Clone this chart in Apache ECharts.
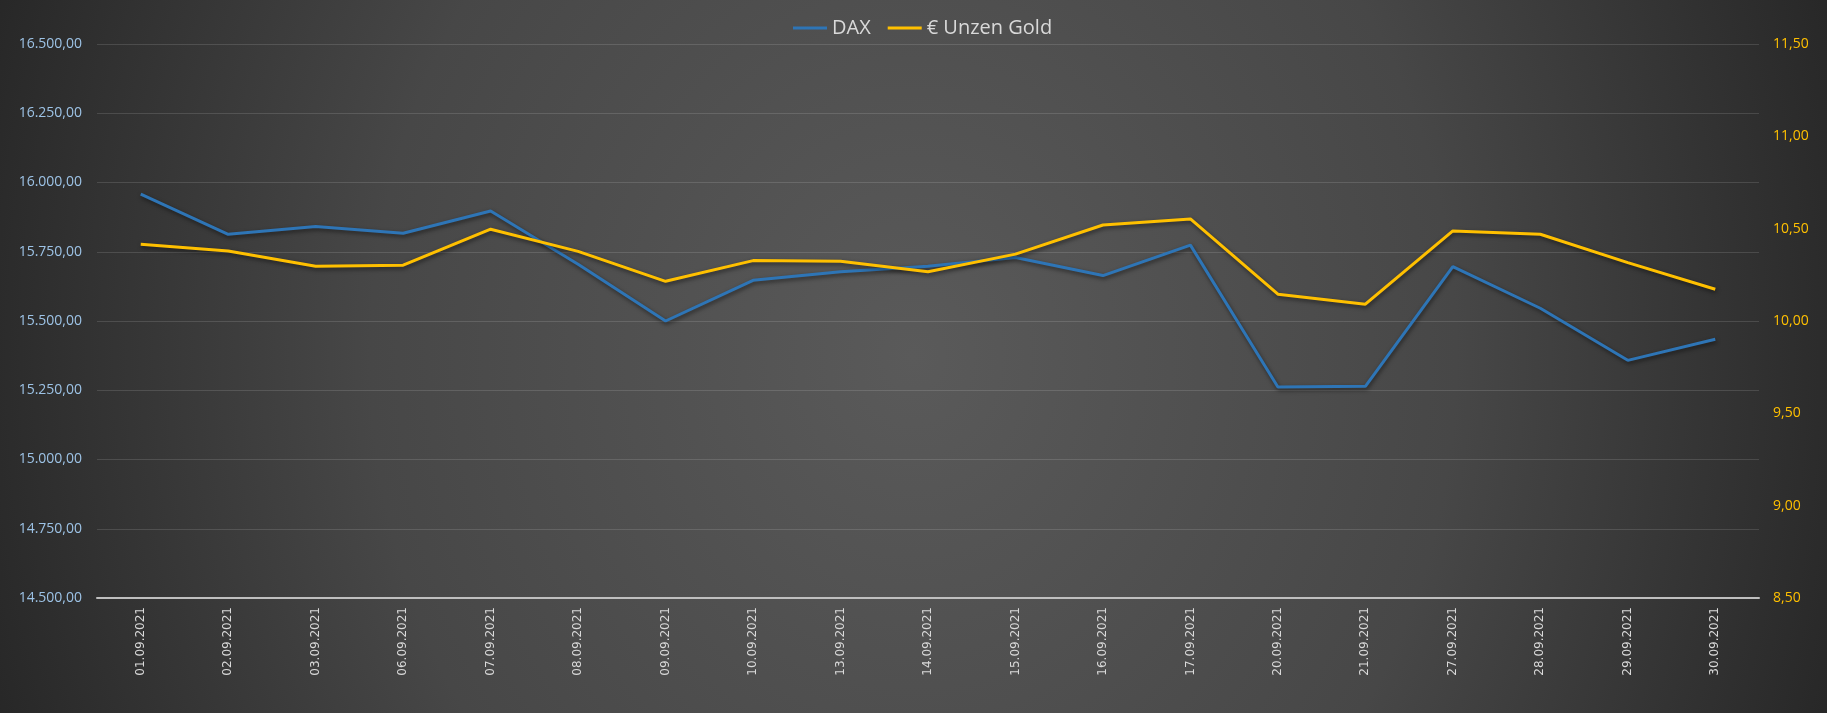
<!DOCTYPE html>
<html>
<head>
<meta charset="utf-8">
<script src="https://cdn.jsdelivr.net/npm/echarts@6/dist/echarts.min.js"></script>
<style>
  html, body { margin: 0; padding: 0; background: #2a2a2a; }
  #chart {
    width: 1827px; height: 713px;
    background: radial-gradient(ellipse 54% 160% at 50% 50%, #5a5a5a 0%, #474747 55%, #262626 100%);
  }
</style>
</head>
<body>
<div id="chart"></div>
<script>
const categories = ['01.09.2021','02.09.2021','03.09.2021','06.09.2021','07.09.2021','08.09.2021','09.09.2021','10.09.2021','13.09.2021','14.09.2021','15.09.2021','16.09.2021','17.09.2021','20.09.2021','21.09.2021','27.09.2021','28.09.2021','29.09.2021','30.09.2021'];
const daxValues = [15958, 15813, 15841, 15817, 15897, 15705, 15500, 15647, 15678, 15698, 15729, 15664, 15774, 15262, 15264, 15696, 15546, 15358, 15434];
const goldValues = [10.416, 10.379, 10.297, 10.302, 10.497, 10.377, 10.215, 10.327, 10.324, 10.267, 10.362, 10.520, 10.553, 10.145, 10.091, 10.488, 10.470, 10.316, 10.172];
const leftTickValues = [14500, 14750, 15000, 15250, 15500, 15750, 16000, 16250, 16500];
const leftTickLabels = ['14.500,00','14.750,00','15.000,00','15.250,00','15.500,00','15.750,00','16.000,00','16.250,00','16.500,00'];
const rightTickValues = [8.5, 9.0, 9.5, 10.0, 10.5, 11.0, 11.5];
const rightTickLabels = ['8,50','9,00','9,50','10,00','10,50','11,00','11,50'];
const seriesNames = ['DAX', '€ Unzen Gold'];

function lookup(values, labels, v) {
  for (let i = 0; i < values.length; i++) {
    if (Math.abs(values[i] - v) < 1e-6) return labels[i];
  }
  return '';
}

const chart = echarts.init(document.getElementById('chart'), null, { renderer: 'canvas' });
const shadow = { shadowColor: 'rgba(0,0,0,0.55)', shadowBlur: 4, shadowOffsetX: 1, shadowOffsetY: 2 };

chart.setOption({
  backgroundColor: 'transparent',
  animation: false,
  legend: {
    top: 13,
    left: 788,
    itemWidth: 34,
    itemHeight: 3,
    itemGap: 17,
    icon: 'rect',
    textStyle: { color: '#d9d9d9', fontSize: 20, fontFamily: 'Open Sans' },
    data: seriesNames
  },
  grid: { left: 97, right: 68, top: 44, bottom: 115, containLabel: false },
  xAxis: {
    type: 'category',
    data: categories,
    boundaryGap: true,
    axisTick: { show: false },
    axisLine: { lineStyle: { color: '#bfbfbf', width: 2 } },
    axisLabel: { rotate: 90, color: '#d9d9d9', fontSize: 12, fontFamily: 'DejaVu Sans', margin: 9 },
    splitLine: { show: false }
  },
  yAxis: [
    {
      type: 'value', min: 14500, max: 16500, interval: 250,
      axisLine: { show: false }, axisTick: { show: false },
      axisLabel: {
        color: '#9dc3e6', fontSize: 14, fontFamily: 'Open Sans', margin: 15,
        formatter: v => lookup(leftTickValues, leftTickLabels, v)
      },
      splitLine: { lineStyle: { color: 'rgba(255,255,255,0.13)', width: 1 } }
    },
    {
      type: 'value', min: 8.5, max: 11.5, interval: 0.5, position: 'right',
      axisLine: { show: false }, axisTick: { show: false },
      axisLabel: {
        color: '#ffc000', fontSize: 14, fontFamily: 'Open Sans', margin: 14,
        formatter: v => lookup(rightTickValues, rightTickLabels, v)
      },
      splitLine: { show: false }
    }
  ],
  series: [
    {
      name: seriesNames[0], type: 'line', yAxisIndex: 0, data: daxValues,
      symbol: 'none', color: '#2e75b6',
      lineStyle: Object.assign({ color: '#2e75b6', width: 3 }, shadow)
    },
    {
      name: seriesNames[1], type: 'line', yAxisIndex: 1, data: goldValues,
      symbol: 'none', color: '#ffc000',
      lineStyle: Object.assign({ color: '#ffc000', width: 3 }, shadow)
    }
  ]
});
</script>
</body>
</html>
